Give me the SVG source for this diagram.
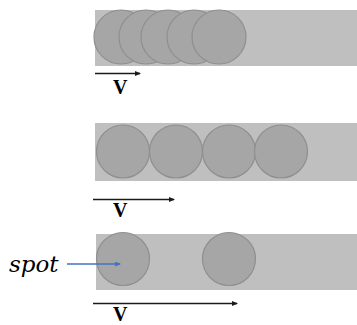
<svg xmlns="http://www.w3.org/2000/svg" width="357" height="325" viewBox="0 0 357 325">
<style>
.band{fill:#bfbfbf}
.spot{fill:#a6a6a6;stroke:#8f8f8f;stroke-width:1.2}
.v{font-family:"Liberation Serif",serif;font-weight:bold;font-size:20px;fill:#000}
.vel{stroke:#1a1a1a;stroke-width:1.4;fill:none;marker-end:url(#ah)}
.lbl{font-family:"DejaVu Serif","Liberation Serif",serif;font-style:italic;font-size:23px;fill:#000}
</style>
<defs>
<marker id="ah" markerWidth="6" markerHeight="5" refX="5" refY="2.5" orient="auto" markerUnits="userSpaceOnUse">
<path d="M0,0 L6,2.5 L0,5 Z" fill="#1a1a1a"/>
</marker>
<marker id="ahb" markerWidth="6" markerHeight="5" refX="5" refY="2.5" orient="auto" markerUnits="userSpaceOnUse">
<path d="M0,0 L6,2.5 L0,5 Z" fill="#4472c4"/>
</marker>
</defs>
<g id="row1">
<rect class="band" x="95" y="10" width="262" height="56"/>
<circle class="spot" cx="121" cy="37" r="27"/>
<circle class="spot" cx="146" cy="37" r="27"/>
<circle class="spot" cx="168" cy="37" r="27"/>
<circle class="spot" cx="194" cy="37" r="27"/>
<circle class="spot" cx="219" cy="37" r="27"/>
</g>
<g id="row2">
<rect class="band" x="95" y="123" width="262" height="58"/>
<circle class="spot" cx="123" cy="151.5" r="26.5"/>
<circle class="spot" cx="176" cy="151.5" r="26.5"/>
<circle class="spot" cx="229" cy="151.5" r="26.5"/>
<circle class="spot" cx="281" cy="151.5" r="26.5"/>
</g>
<g id="row3">
<rect class="band" x="96" y="234" width="261" height="56"/>
<circle class="spot" cx="123" cy="259" r="26.5"/>
<circle class="spot" cx="229" cy="259" r="26.5"/>
</g>
<g id="connectors">
<line class="vel" x1="95" y1="73.5" x2="140" y2="73.5"/>
<line class="vel" x1="93" y1="199.5" x2="174" y2="199.5"/>
<line class="vel" x1="93" y1="303.5" x2="237" y2="303.5"/>
<line x1="67" y1="264" x2="120" y2="264" stroke="#4472c4" stroke-width="1.5" marker-end="url(#ahb)"/>
</g>
<g id="labels">
<text class="v" x="113" y="94">V</text>
<text class="v" x="113" y="217">V</text>
<text class="v" x="113" y="321">V</text>
<text class="lbl" x="9" y="272">spot</text>
</g>
</svg>
